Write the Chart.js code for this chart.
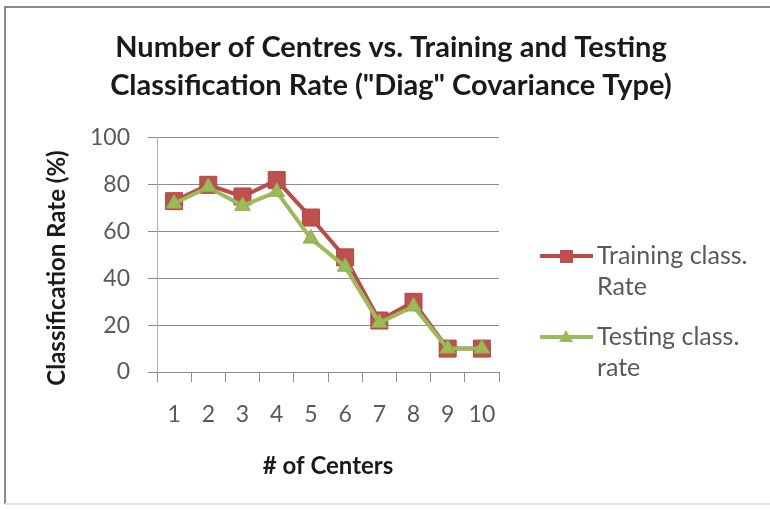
<!DOCTYPE html>
<html>
<head>
<meta charset="utf-8">
<script src="https://cdn.jsdelivr.net/npm/chart.js@4/dist/chart.umd.min.js"></script>
<style>
  html, body { margin: 0; padding: 0; background: #ffffff; }
  #wrap { width: 770px; height: 510px; position: relative; }
</style>
</head>
<body>
<div id="wrap"><canvas id="c" width="770" height="510"></canvas></div>
<script>
const categories = ["1", "2", "3", "4", "5", "6", "7", "8", "9", "10"];
const trainingRate = [73, 80, 75, 82, 66, 49, 22, 30, 10, 10];
const testingRate = [72, 79, 71, 77, 57, 45, 21, 28, 10, 10];
const yTicks = [0, 20, 40, 60, 80, 100];
const titleLines = ["Number of Centres vs. Training and Testing", "Classification Rate (\"Diag\" Covariance Type)"];
const yAxisTitle = "Classification Rate (%)";
const legendLines = [["Training class.", "Rate"], ["Testing class.", "rate"]];

const RED = "#BE4B48";
const GREEN = "#9BBB59";
const GRID = "#8C8C8C";
const TXT = "#595959";

const borderPlugin = {
  id: "frame",
  beforeDraw(chart) {
    const ctx = chart.ctx;
    ctx.save();
    ctx.fillStyle = "#ffffff";
    ctx.fillRect(0, 0, chart.width, chart.height);
    ctx.strokeStyle = "#8a8a8a";
    ctx.lineWidth = 2;
    ctx.beginPath();
    ctx.moveTo(5, 504);
    ctx.lineTo(5, 7);
    ctx.lineTo(770, 7);
    ctx.stroke();
    ctx.strokeStyle = "#e2e2e2";
    ctx.beginPath();
    ctx.moveTo(5, 504);
    ctx.lineTo(770, 504);
    ctx.stroke();
    ctx.restore();
  }
};

const yTitlePlugin = {
  id: "yTitle",
  afterDraw(chart) {
    const ctx = chart.ctx;
    ctx.save();
    ctx.translate(57, 268);
    ctx.rotate(-Math.PI / 2);
    ctx.fillStyle = "#1a1a1a";
    ctx.font = "bold 24px Lato";
    ctx.textAlign = "center";
    ctx.textBaseline = "middle";
    ctx.fillText(yAxisTitle, 0, 0);
    ctx.restore();
  }
};

const legendPlugin = {
  id: "sideLegend",
  afterDraw(chart) {
    const ctx = chart.ctx;
    const area = chart.chartArea;
    const x0 = area.right + 41;
    const ys = [256, 337];
    ctx.save();
    chart.data.datasets.forEach((ds, i) => {
      const y = ys[i];
      ctx.strokeStyle = ds.borderColor;
      ctx.lineWidth = 4;
      ctx.beginPath();
      ctx.moveTo(x0, y);
      ctx.lineTo(x0 + 53, y);
      ctx.stroke();
      ctx.fillStyle = ds.pointBackgroundColor;
      ctx.beginPath();
      if (ds.pointStyle === "rect") {
        ctx.rect(x0 + 20, y - 6, 13, 13);
      } else {
        ctx.moveTo(x0 + 26, y - 7);
        ctx.lineTo(x0 + 33, y + 5);
        ctx.lineTo(x0 + 19, y + 5);
        ctx.closePath();
      }
      ctx.fill();
      ctx.fillStyle = TXT;
      ctx.font = "25px Lato";
      ctx.textBaseline = "middle";
      ctx.textAlign = "left";
      legendLines[i].forEach((t, j) => ctx.fillText(t, x0 + 57, y + j * 31));
    });
    ctx.restore();
  }
};

new Chart(document.getElementById("c"), {
  type: "line",
  data: {
    labels: categories,
    datasets: [
      {
        label: legendLines[0].join(" "),
        data: trainingRate,
        borderColor: RED,
        backgroundColor: RED,
        pointBackgroundColor: "#C0504D",
        pointBorderColor: "#B04542",
        pointStyle: "rect",
        pointRadius: 12,
        pointBorderWidth: 1,
        borderWidth: 4,
        tension: 0,
        order: 2,
        yAxisID: "y"
      },
      {
        label: legendLines[1].join(" "),
        data: testingRate,
        borderColor: GREEN,
        backgroundColor: GREEN,
        pointBackgroundColor: "#9BBB59",
        pointBorderColor: "#8EAD4E",
        pointStyle: "triangle",
        pointRadius: 9,
        pointBorderWidth: 1,
        borderWidth: 4,
        tension: 0,
        order: 1,
        yAxisID: "y"
      }
    ]
  },
  options: {
    responsive: false,
    animation: false,
    devicePixelRatio: 1,
    layout: { padding: { left: 12, right: 0, top: 0, bottom: 0 } },
    plugins: {
      legend: { display: false },
      tooltip: { enabled: false },
      title: {
        display: true,
        text: titleLines,
        color: "#1a1a1a",
        font: { family: "Lato", size: 29, weight: "bold", lineHeight: 1.31 },
        padding: { top: 29, bottom: 33 }
      }
    },
    scales: {
      x: {
        type: "category",
        offset: true,
        grid: {
          offset: true,
          drawOnChartArea: false,
          drawTicks: true,
          tickLength: 10,
          color: GRID
        },
        border: { display: true, color: GRID, width: 1 },
        ticks: {
          color: TXT,
          font: { family: "Lato", size: 23 },
          padding: 19,
          maxRotation: 0,
          autoSkip: false
        },
        title: {
          display: true,
          text: "# of Centers",
          color: "#1a1a1a",
          font: { family: "Lato", size: 24, weight: "bold", lineHeight: 1.2 },
          padding: { top: 29, bottom: 29 }
        },
        afterFit(scale) { scale.height = 510 - 372; }
      },
      y: {
        type: "linear",
        position: "left",
        min: 0,
        max: 100,
        afterBuildTicks(scale) { scale.ticks = yTicks.map(v => ({ value: v })); },
        grid: { color: GRID, tickLength: 9, drawTicks: true },
        border: { display: true, color: "#B0B0B0", width: 1 },
        ticks: {
          color: TXT,
          font: { family: "Lato", size: 23 },
          padding: 18
        },
        title: { display: false },
        afterFit(scale) { scale.width = 157 - 12; }
      },
      yR: {
        type: "linear",
        position: "right",
        display: true,
        grid: { display: false, drawTicks: false },
        border: { display: false },
        ticks: { display: false },
        afterFit(scale) { scale.width = 770 - 499; }
      }
    }
  },
  plugins: [borderPlugin, yTitlePlugin, legendPlugin]
});
</script>
</body>
</html>
